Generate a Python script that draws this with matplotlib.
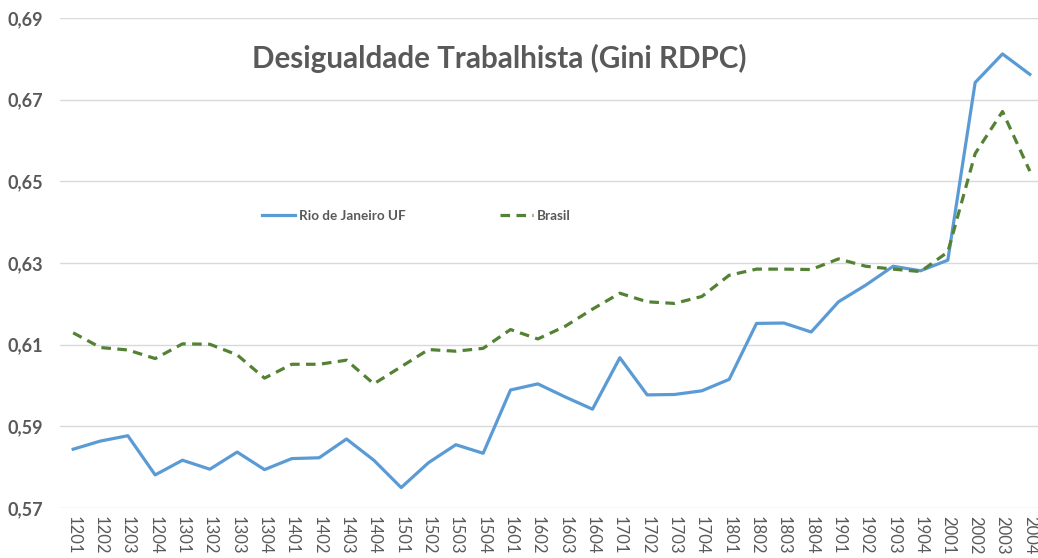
import matplotlib.pyplot as plt
from matplotlib.ticker import FuncFormatter

# quarters (YYQQ)
quarters = ["1201", "1202", "1203", "1204", "1301", "1302", "1303", "1304",
            "1401", "1402", "1403", "1404", "1501", "1502", "1503", "1504",
            "1601", "1602", "1603", "1604", "1701", "1702", "1703", "1704",
            "1801", "1802", "1803", "1804", "1901", "1902", "1903", "1904",
            "2001", "2002", "2003", "2004"]

rio = [0.5844, 0.5864, 0.5877, 0.5781, 0.5817, 0.5795, 0.5837, 0.5794,
       0.5821, 0.5823, 0.5869, 0.5817, 0.5750, 0.5811, 0.5855, 0.5834,
       0.5989, 0.6004, 0.5972, 0.5942, 0.6068, 0.5977, 0.5978, 0.5987,
       0.6015, 0.6152, 0.6153, 0.6131, 0.6205, 0.6246, 0.6292, 0.6281,
       0.6307, 0.6742, 0.6812, 0.6762]

brasil = [0.6129, 0.6093, 0.6087, 0.6066, 0.6102, 0.6101, 0.6075, 0.6018,
          0.6052, 0.6052, 0.6062, 0.6004, 0.6046, 0.6088, 0.6084, 0.6091,
          0.6137, 0.6114, 0.6145, 0.6187, 0.6226, 0.6205, 0.6201, 0.6218,
          0.6270, 0.6285, 0.6285, 0.6284, 0.6310, 0.6292, 0.6285, 0.6279,
          0.6327, 0.6568, 0.6671, 0.6525]

yticks = [0.57, 0.59, 0.61, 0.63, 0.65, 0.67, 0.69]

plt.rcParams['font.family'] = ['Lato', 'DejaVu Sans']
grey = '#595959'

fig = plt.figure(figsize=(10.38, 5.58), dpi=100)
ax = fig.add_axes([59.5 / 1038, 50 / 558, 984 / 1038, 490 / 558])

x = range(len(quarters))
ax.plot(x, rio, color='#5B9BD5', lw=2.3, label='Rio de Janeiro UF', solid_joinstyle='round')
ax.plot(x, brasil, color='#548235', lw=2.3, ls=(0, (3, 2)), label='Brasil')

ax.set_xlim(-0.5, len(quarters) - 0.5)
ax.set_ylim(0.57, 0.69)
ax.set_yticks(yticks)
ax.yaxis.set_major_formatter(FuncFormatter(lambda v, p: f"{v:.2f}".replace('.', ',')))
ax.set_xticks(list(x))
ax.set_xticklabels(quarters, rotation=-90, fontsize=12, color=grey)
for lab in ax.get_yticklabels():
    lab.set_fontweight('bold')
    lab.set_fontsize(13)
    lab.set_color(grey)
ax.tick_params(length=0)
ax.tick_params(axis='y', pad=12)
ax.tick_params(axis='x', pad=6)

ax.grid(axis='y', color='#D9D9D9', lw=1)
ax.set_axisbelow(True)
for s in ax.spines.values():
    s.set_visible(False)

fig.text(499 / 1038, 1 - 58 / 558, 'Desigualdade Trabalhista (Gini RDPC)',
         ha='center', va='center', fontsize=21.3, fontweight='bold', color=grey)

leg = ax.legend(loc='center left', bbox_to_anchor=(190 / 984, (508 - 216) / 490),
                ncol=2, frameon=False, columnspacing=7.0, handlelength=2.45, handletextpad=0.3,
                prop={'weight': 'bold', 'size': 9.7})
for t in leg.get_texts():
    t.set_color(grey)

fig.savefig('out.png', dpi=100)
